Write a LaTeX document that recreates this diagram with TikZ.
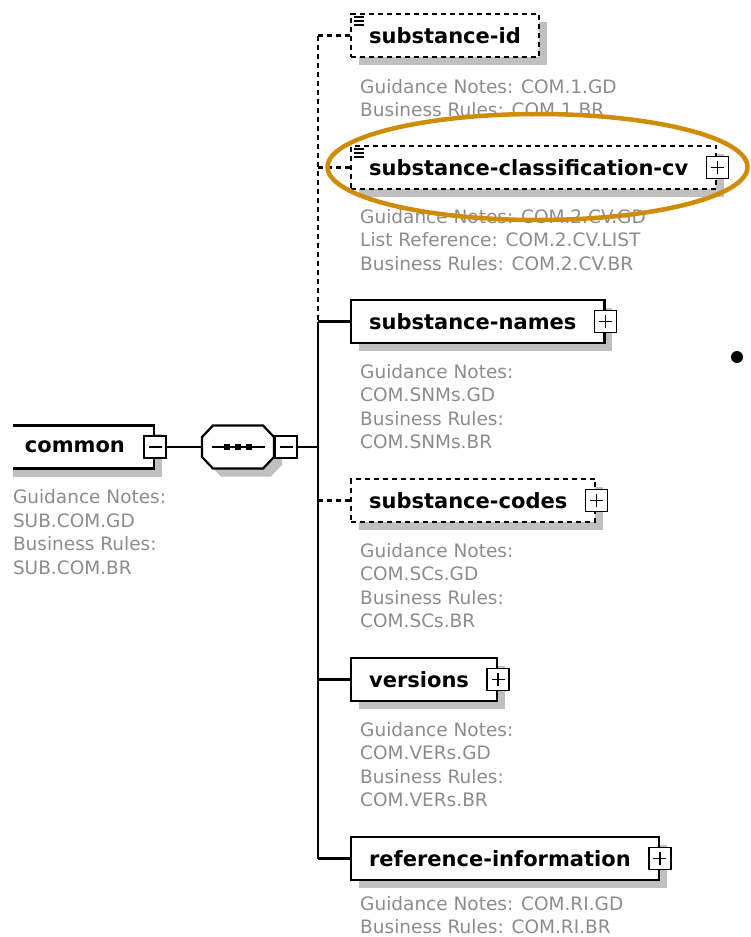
\documentclass[tikz,border=0pt]{standalone}
\usepackage{fontspec}
\setmainfont{DejaVu Sans}
\usetikzlibrary{positioning,shadows}
\definecolor{notegray}{RGB}{140,140,140}
\definecolor{shadowgray}{RGB}{192,192,192}
\definecolor{hilite}{RGB}{206,140,8}
\begin{document}
\begin{tikzpicture}[x=1pt, y=-1pt,
    line/.style={line width=2.2pt},
    opt line/.style={line, dash pattern=on 5pt off 4pt},
    box shadow/.style={drop shadow={shadow xshift=8pt, shadow yshift=-8pt, fill=shadowgray, opacity=1}},
    elem/.style={rectangle, draw, line width=2.2pt, fill=white, minimum height=43pt, inner xsep=18pt, anchor=west, box shadow, font=\fontsize{21}{25}\selectfont\bfseries},
    opt elem/.style={elem, dash pattern=on 5pt off 4pt},
    note/.style={text=notegray, align=left, inner sep=0pt, font=\fontsize{18.5}{23.4}\selectfont},
    toggle/.style={rectangle, draw, line width=1.8pt, fill=white, minimum size=22pt, inner sep=0pt},
    minus/.style={toggle, path picture={\draw[line width=1.4pt] ([xshift=-6.5pt]path picture bounding box.center) -- ([xshift=6.5pt]path picture bounding box.center);}},
    plus/.style={toggle, path picture={\draw[line width=1.4pt] ([xshift=-6.5pt]path picture bounding box.center) -- ([xshift=6.5pt]path picture bounding box.center) ([yshift=-6.5pt]path picture bounding box.center) -- ([yshift=6.5pt]path picture bounding box.center);}},
    octagon/.style={insert path={(-36,-10) -- (-25,-21.5) -- (25,-21.5) -- (36,-10) -- (36,10) -- (25,21.5) -- (-25,21.5) -- (-36,10) -- cycle}},
    list icon/.style={line width=1.2pt}]
  \useasboundingbox (0,0) rectangle (751,937);
  \clip (13,0) rectangle (751,937);

  \node[elem, minimum width=158pt, anchor=east] (common) at (155,447) {common};
  \node[minus] (commonT) at (common.east) {};
  \node[note, below right=20pt and 18pt of common.south west] (commonN) {Guidance Notes:\\SUB.COM.GD\\Business Rules:\\SUB.COM.BR};

  \node[minimum width=72pt, minimum height=43pt, inner sep=0pt] (seq) at (238,447) {};
  \fill[shadowgray, shift={([xshift=8pt,yshift=-8pt]seq.center)}, octagon];
  \draw[line, fill=white, shift={(seq.center)}, octagon];
  \node[minus, right=0pt of seq] (seqT) {};
  \draw[line width=1.6pt] ([xshift=10pt]seq.west) -- ([xshift=-9pt]seq.east);
  \foreach \dx in {-11,0,11}
    \fill ([xshift=\dx pt]seq.center) +(-3,-3) rectangle +(3,3);
  \coordinate (bus) at (318,447);

  \node[opt elem] (id) at (350,35.5) {substance-id};
  \node[opt elem] (class) at (350,167.5) {substance-classification-cv\hspace*{10pt}};
  \node[plus] (classT) at (class.east) {};
  \node[elem] (names) at (350,321.5) {substance-names\hspace*{10pt}};
  \node[plus] (namesT) at (names.east) {};
  \node[opt elem] (codes) at (350,500.5) {substance-codes\hspace*{10pt}};
  \node[plus] (codesT) at (codes.east) {};
  \node[elem] (versions) at (350,679.5) {versions\hspace*{10pt}};
  \node[plus] (versionsT) at (versions.east) {};
  \node[elem] (ref) at (350,858.5) {reference-information\hspace*{10pt}};
  \node[plus] (refT) at (ref.east) {};

  \foreach \n in {id,class}
    \foreach \dy in {4,8,12}
      \draw[list icon] ([xshift=4pt,yshift=-\dy pt]\n.north west) -- ++(10,0);

  \node[note, below right=21pt and 10pt of id.south west] (idN) {Guidance Notes: COM.1.GD\\Business Rules: COM.1.BR};
  \node[note, below right=19pt and 10pt of class.south west] (classN) {Guidance Notes: COM.2.CV.GD\\List Reference: COM.2.CV.LIST\\Business Rules: COM.2.CV.BR};
  \node[note, below right=20pt and 10pt of names.south west] (namesN) {Guidance Notes:\\COM.SNMs.GD\\Business Rules:\\COM.SNMs.BR};
  \node[note, below right=20pt and 10pt of codes.south west] (codesN) {Guidance Notes:\\COM.SCs.GD\\Business Rules:\\COM.SCs.BR};
  \node[note, below right=20pt and 10pt of versions.south west] (versionsN) {Guidance Notes:\\COM.VERs.GD\\Business Rules:\\COM.VERs.BR};
  \node[note, below right=15pt and 10pt of ref.south west] (refN) {Guidance Notes: COM.RI.GD\\Business Rules: COM.RI.BR};

  \path[line] (commonT) edge (seq)
              (seqT) edge (bus);
  \draw[opt line] (id.west -| bus) -- (names.west -| bus);
  \draw[line] (names.west -| bus) -- (ref.west -| bus);
  \path[opt line] (id.west -| bus) edge (id)
                  (class.west -| bus) edge (class)
                  (codes.west -| bus) edge (codes);
  \path[line] (names.west -| bus) edge (names)
              (versions.west -| bus) edge (versions)
              (ref.west -| bus) edge (ref);

  \node[circle, fill, inner sep=0pt, minimum size=12pt] (dot) at (737,357) {};
  \draw[hilite, line width=4.5pt] (537.5,167) ellipse [x radius=210, y radius=53];
\end{tikzpicture}
\end{document}
